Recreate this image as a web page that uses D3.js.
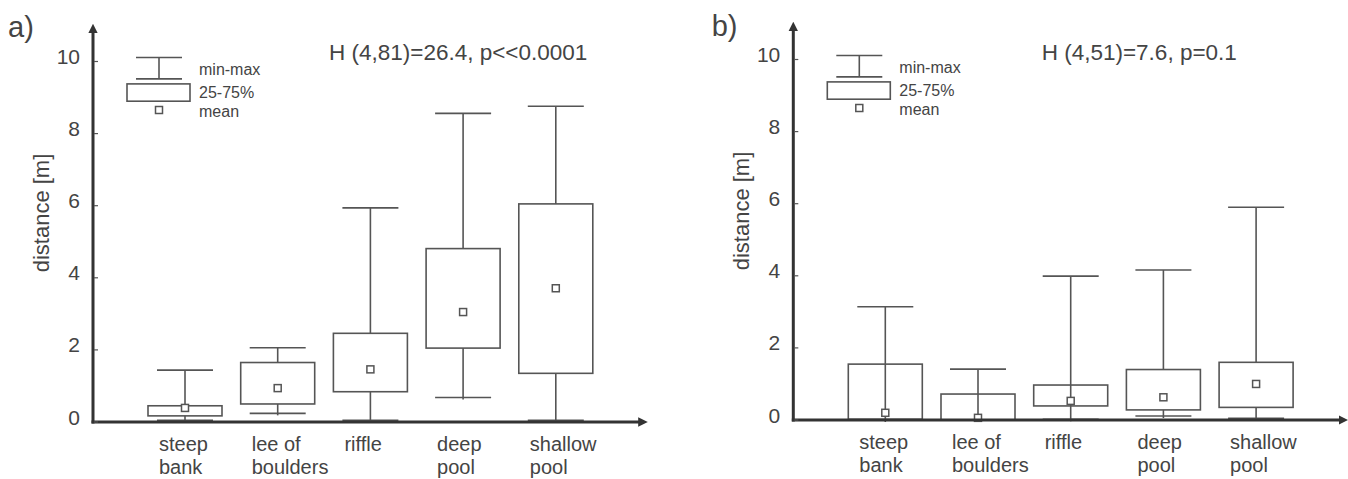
<!DOCTYPE html>
<html>
<head>
<meta charset="utf-8">
<script src="https://cdn.jsdelivr.net/npm/d3@7"></script>
<style>
  body { margin: 0; background: #fff; }
  text { font-family: "Liberation Sans", Arial, sans-serif; fill: #444; }
</style>
</head>
<body>
<div class="chart"></div>
<script>
// categories (multi-line tick labels)
const categories = [["steep", "bank"], ["lee of", "boulders"], ["riffle"], ["deep", "pool"], ["shallow", "pool"]];
const yTicks = [0, 2, 4, 6, 8, 10];
const legendLabels = ["min-max", "25-75%", "mean"];

// panel a)
const aMin  = [0.05, 0.24, 0.05, 0.68, 0.05];
const aQ1   = [0.17, 0.50, 0.84, 2.05, 1.35];
const aQ3   = [0.45, 1.65, 2.46, 4.81, 6.05];
const aMax  = [1.44, 2.06, 5.94, 8.56, 8.76];
const aMean = [0.39, 0.94, 1.46, 3.05, 3.71];
const aStat = "H (4,81)=26.4, p<<0.0001";

// panel b)
const bMin  = [0.00, 0.00, 0.02, 0.11, 0.05];
const bQ1   = [0.02, 0.00, 0.39, 0.28, 0.35];
const bQ3   = [1.55, 0.72, 0.97, 1.40, 1.60];
const bMax  = [3.14, 1.41, 3.99, 4.16, 5.90];
const bMean = [0.20, 0.06, 0.53, 0.63, 1.00];
const bStat = "H (4,51)=7.6, p=0.1";

const W = 1348, H = 479;
const svg = d3.select(".chart").append("svg")
    .attr("width", W)
    .attr("height", H);

const defs = svg.append("defs");
defs.append("marker")
    .attr("id", "arrow")
    .attr("viewBox", "0 0 10 10")
    .attr("refX", 5).attr("refY", 5)
    .attr("markerWidth", 3.2).attr("markerHeight", 3.2)
    .attr("orient", "auto")
  .append("path")
    .attr("d", "M0,0 L10,5 L0,10 z")
    .attr("fill", "#333");

function drawPanel(opt) {
  const g = svg.append("g").attr("transform", "translate(" + opt.x0 + "," + opt.y0 + ")");

  // y scale: 36 px per metre
  const y = d3.scaleLinear().domain([0, 10]).range([0, -360.5]);
  // x positions of the categories
  const x = d3.scalePoint()
      .domain(d3.range(categories.length))
      .range([92, 92 + 4 * 92.7]);

  const boxW = 74, capW = 56;
  const data = d3.range(categories.length).map(i => ({
    i: i, min: opt.min[i], q1: opt.q1[i], q3: opt.q3[i], max: opt.max[i], mean: opt.mean[i],
    through: opt.through.includes(i)
  }));

  const box = g.selectAll(".box").data(data).join("g").attr("class", "box");
  const stroke = "#555";

  // whiskers (some boxes in b) show the line running through)
  box.append("line")
      .attr("x1", d => x(d.i)).attr("x2", d => x(d.i))
      .attr("y1", d => y(d.max)).attr("y2", d => d.through ? y(d.min) + 2 : y(d.q3))
      .attr("stroke", stroke).attr("stroke-width", 1.6);
  box.filter(d => !d.through).append("line")
      .attr("x1", d => x(d.i)).attr("x2", d => x(d.i))
      .attr("y1", d => y(d.q1)).attr("y2", d => y(d.min) + 2)
      .attr("stroke", stroke).attr("stroke-width", 1.6);
  // caps
  box.append("line")
      .attr("x1", d => x(d.i) - capW / 2).attr("x2", d => x(d.i) + capW / 2)
      .attr("y1", d => y(d.max)).attr("y2", d => y(d.max))
      .attr("stroke", stroke).attr("stroke-width", 1.6);
  box.append("line")
      .attr("x1", d => x(d.i) - capW / 2).attr("x2", d => x(d.i) + capW / 2)
      .attr("y1", d => y(d.min)).attr("y2", d => y(d.min))
      .attr("stroke", stroke).attr("stroke-width", 1.6);
  // 25-75% box
  box.append("rect")
      .attr("x", d => x(d.i) - boxW / 2)
      .attr("y", d => y(d.q3))
      .attr("width", boxW)
      .attr("height", d => y(d.q1) - y(d.q3))
      .attr("fill", "none")
      .attr("stroke", stroke).attr("stroke-width", 1.6);
  // mean
  box.append("rect")
      .attr("x", d => x(d.i) - 3.5)
      .attr("y", d => y(d.mean) - 3.5)
      .attr("width", 7).attr("height", 7)
      .attr("fill", "#fff")
      .attr("stroke", stroke).attr("stroke-width", 1.5);

  // axes
  g.append("line")
      .attr("x1", 0).attr("x2", 0)
      .attr("y1", 1.5).attr("y2", y(10) - 33)
      .attr("stroke", "#333").attr("stroke-width", 3)
      .attr("marker-end", "url(#arrow)");
  g.append("line")
      .attr("x1", -1.5).attr("x2", 550)
      .attr("y1", 0).attr("y2", 0)
      .attr("stroke", "#333").attr("stroke-width", 3)
      .attr("marker-end", "url(#arrow)");

  // y ticks
  const ticks = g.selectAll(".ytick").data(yTicks).join("g").attr("class", "ytick");
  ticks.append("line")
      .attr("x1", 1).attr("x2", 5)
      .attr("y1", d => y(d)).attr("y2", d => y(d))
      .attr("stroke", "#555").attr("stroke-width", 1.2);
  ticks.append("text")
      .attr("x", -13)
      .attr("y", d => y(d) + 2.5)
      .attr("text-anchor", "end")
      .style("font-size", "21px")
      .text(d => d);

  // x labels
  const labs = g.selectAll(".xlab").data(categories).join("text")
      .attr("class", "xlab")
      .attr("x", (d, i) => x(i) - 26)
      .attr("y", 29)
      .style("font-size", "20px");
  labs.selectAll("tspan").data(d => d).join("tspan")
      .attr("x", function() { return d3.select(this.parentNode).attr("x"); })
      .attr("dy", (d, j) => j === 0 ? 0 : 22.5)
      .text(d => d);

  // y title
  g.append("text")
      .attr("transform", "translate(-52," + (-209) + ") rotate(-90)")
      .attr("text-anchor", "middle")
      .attr("dy", "0.35em")
      .style("font-size", "22px")
      .text("distance [m]");

  // panel letter
  g.append("text")
      .attr("x", opt.letterX)
      .attr("y", opt.letterY - opt.y0)
      .style("font-size", "29px")
      .text(opt.letter);

  // statistics
  g.append("text")
      .attr("x", opt.statX)
      .attr("y", 59.5 - opt.y0)
      .style("font-size", "22.5px")
      .text(opt.stat);

  // legend
  const top = y(10);
  const lg = g.append("g").attr("transform", "translate(0," + top + ")");
  const lc = 66;
  lg.append("line").attr("x1", lc - 23).attr("x2", lc + 23).attr("y1", -4).attr("y2", -4)
      .attr("stroke", stroke).attr("stroke-width", 1.6);
  lg.append("line").attr("x1", lc).attr("x2", lc).attr("y1", -4).attr("y2", 17.4)
      .attr("stroke", stroke).attr("stroke-width", 1.6);
  lg.append("line").attr("x1", lc - 23).attr("x2", lc + 23).attr("y1", 17.4).attr("y2", 17.4)
      .attr("stroke", stroke).attr("stroke-width", 1.6);
  lg.append("rect").attr("x", lc - 32).attr("y", 22.4).attr("width", 63).attr("height", 17.3)
      .attr("fill", "none").attr("stroke", stroke).attr("stroke-width", 1.6);
  lg.append("rect").attr("x", lc - 3.5).attr("y", 45).attr("width", 7).attr("height", 7)
      .attr("fill", "#fff").attr("stroke", stroke).attr("stroke-width", 1.5);
  lg.selectAll(".ltxt").data(legendLabels).join("text")
      .attr("class", "ltxt")
      .attr("x", 106)
      .attr("y", (d, i) => [13.2, 36.8, 55.5][i])
      .style("font-size", "16px")
      .text(d => d);
}

drawPanel({ x0: 93, y0: 422, min: aMin, q1: aQ1, q3: aQ3, max: aMax, mean: aMean, through: [],
            stat: aStat, statX: 236, letter: "a)", letterX: -85, letterY: 37 });
drawPanel({ x0: 793.3, y0: 420, min: bMin, q1: bQ1, q3: bQ3, max: bMax, mean: bMean, through: [0, 1, 2],
            stat: bStat, statX: 248.4, letter: "b)", letterX: -81.6, letterY: 36 });
</script>
</body>
</html>
